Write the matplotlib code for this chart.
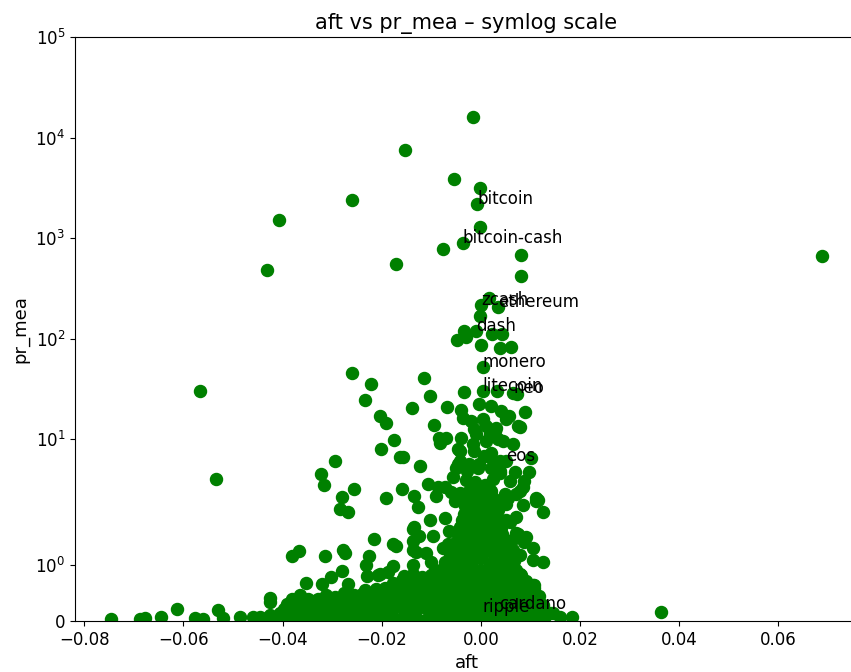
import matplotlib
matplotlib.use("Agg")
import matplotlib.pyplot as plt
from matplotlib.ticker import NullLocator

plt.rcParams["font.size"] = 12

# labelled coins
coins = ["bitcoin", "bitcoin-cash", "zcash", "ethereum", "dash", "monero",
         "litecoin", "neo", "eos", "ripple", "cardano"]
coin_aft = [-0.0007, -0.0037, 0.0001, 0.0034, -0.0009, 0.0004, 0.0004,
            0.0065, 0.0050, 0.0004, 0.0037]
coin_pr = [2200, 900, 215, 205, 118, 52, 30, 29, 6.1, 0.17, 0.22]

# pr_mea above ~17
upper = [(-0.0015, 16000), (-0.0154, 7500), (-0.0055, 3900), (-0.0002, 3140),
         (-0.0259, 2400), (-0.0408, 1500), (-0.0001, 1300), (-0.0076, 780),
         (0.0080, 680), (0.0689, 670), (-0.0171, 547), (-0.0432, 485),
         (0.0081, 416), (0.0016, 252), (-0.0001, 169), (-0.0034, 118),
         (-0.0031, 103), (-0.0048, 96), (0.0000, 86), (0.0023, 112),
         (0.0043, 112), (0.0038, 80), (0.0060, 82), (-0.0259, 45.5),
         (-0.0114, 40.6), (-0.0221, 35.4), (-0.0567, 30), (-0.0102, 26.6),
         (-0.0034, 29.5), (0.0033, 30), (0.0073, 28), (-0.0234, 24.4),
         (-0.0138, 20.2), (-0.0068, 20.8), (-0.0041, 19.3), (-0.0004, 22.3),
         (0.0021, 21.3), (0.0041, 19.0), (0.0056, 17.0), (0.0090, 18.6)]

# pr_mea 2 .. 17
mid = [(-0.0204, 17.0), (-0.0191, 14.4), (-0.0094, 13.7), (-0.0036, 16.2),
       (-0.0019, 15.1), (0.0004, 15.8), (0.0031, 12.9), (0.0051, 15.8),
       (0.0078, 13.2), (-0.0013, 12.5), (0.0011, 13.5), (0.0028, 12.1),
       (0.0075, 13.5), (-0.0175, 9.75), (-0.0085, 10.3), (-0.0070, 10.2),
       (-0.0040, 10.3), (-0.0009, 11.2), (0.0011, 9.6), (0.0044, 9.6),
       (0.0065, 8.9), (-0.0083, 9.2), (-0.0016, 8.9), (0.0018, 11.2),
       (0.0034, 10.0), (-0.0202, 7.9), (-0.0046, 7.9), (-0.0043, 7.6),
       (-0.0013, 7.6), (0.0007, 6.8), (0.0021, 7.3), (-0.0164, 6.6),
       (-0.0157, 6.7), (-0.0294, 6.1), (0.0038, 6.1), (-0.0043, 6.1),
       (0.0018, 6.6), (0.0102, 6.5), (-0.0122, 5.4), (-0.0046, 5.6),
       (-0.0003, 5.6), (-0.0023, 5.6), (-0.0050, 5.1), (-0.0006, 5.1),
       (0.0021, 5.1), (-0.0029, 4.8), (0.0038, 4.8), (0.0038, 4.6),
       (0.0068, 4.7), (0.0098, 4.7), (-0.0323, 4.5), (-0.0535, 4.0),
       (-0.0056, 4.2), (0.0058, 3.85), (0.0088, 3.85), (-0.0107, 3.6),
       (-0.0316, 3.5), (-0.0160, 3.2), (-0.0255, 3.2), (-0.0073, 3.3),
       (-0.0087, 3.3), (0.0085, 3.3), (0.0001, 3.3), (-0.0023, 3.07),
       (0.0021, 3.07), (0.0078, 3.07), (-0.0043, 2.9), (0.0048, 2.85),
       (0.0071, 2.85), (-0.0281, 2.68), (-0.0134, 2.74), (-0.0091, 2.74),
       (-0.0191, 2.58), (0.0054, 2.6), (0.0112, 2.6), (0.0115, 2.5),
       (0.0112, 2.44), (0.0051, 2.26), (0.0085, 2.2), (-0.0127, 2.1),
       (-0.0285, 2.0), (-0.0012, 3.7), (0.0008, 3.5), (-0.0030, 3.9),
       (0.0025, 4.0), (-0.0020, 3.05), (0.0000, 2.9), (0.0016, 3.15),
       (-0.0026, 2.55), (-0.0008, 2.7), (0.0010, 2.5), (0.0024, 2.62),
       (-0.0032, 2.15), (-0.0014, 2.25), (0.0004, 2.12), (0.0022, 2.3),
       (0.0032, 2.2), (-0.0052, 2.4), (0.0040, 2.45), (-0.0060, 3.0)]

# pr_mea 0.6 .. 2
low = [(-0.0269, 1.95), (0.0125, 1.95), (-0.0009, 1.92), (0.0071, 1.86),
       (-0.0072, 1.84), (-0.0103, 1.80), (0.0051, 1.80), (0.0058, 1.77),
       (-0.0036, 1.74), (-0.0134, 1.68), (-0.0136, 1.64), (0.0075, 1.56),
       (-0.0003, 1.56), (-0.0124, 1.53), (-0.0097, 1.53), (-0.0040, 1.53),
       (0.0071, 1.57), (0.0092, 1.50), (-0.0216, 1.46), (-0.0137, 1.44),
       (0.0088, 1.41), (-0.0177, 1.37), (-0.0172, 1.34), (-0.0077, 1.30),
       (0.0105, 1.30), (-0.0278, 1.28), (-0.0136, 1.27), (-0.0366, 1.25),
       (-0.0130, 1.24), (-0.0275, 1.22), (-0.0110, 1.21), (0.0078, 1.18),
       (-0.0382, 1.16), (-0.0314, 1.16), (-0.0226, 1.16), (0.0105, 1.09),
       (-0.0050, 1.06), (-0.0100, 1.06), (0.0125, 1.06), (-0.0231, 1.0),
       (-0.0177, 0.99), (-0.0137, 1.0), (0.0058, 0.97), (-0.0281, 0.90),
       (-0.0187, 0.88), (-0.0204, 0.85), (0.0081, 0.82), (-0.0208, 0.82),
       (-0.0230, 0.80), (-0.0302, 0.79), (-0.0090, 0.79), (-0.0268, 0.67),
       (-0.0352, 0.68), (-0.0320, 0.66), (0.0105, 0.64), (0.0108, 0.64),
       (-0.0110, 0.61),
       (-0.0034, 1.92), (-0.0016, 1.97), (0.0002, 1.91), (0.0020, 1.95),
       (0.0034, 1.99), (-0.0038, 1.80), (-0.0020, 1.85), (-0.0002, 1.79),
       (0.0016, 1.83), (0.0032, 1.87), (-0.0042, 1.68), (-0.0024, 1.72),
       (-0.0006, 1.66), (0.0012, 1.70), (0.0030, 1.74), (0.0040, 1.67),
       (-0.0046, 1.55), (-0.0028, 1.60), (-0.0010, 1.53), (0.0008, 1.58),
       (0.0026, 1.62), (0.0042, 1.56), (-0.0050, 1.42), (-0.0032, 1.47),
       (-0.0014, 1.40), (0.0004, 1.45), (0.0022, 1.49), (0.0040, 1.43),
       (-0.0054, 1.30), (-0.0036, 1.35), (-0.0018, 1.28), (0.0000, 1.33),
       (0.0018, 1.37), (0.0036, 1.29), (0.0048, 1.34), (-0.0062, 1.18),
       (-0.0044, 1.23), (-0.0026, 1.16), (-0.0008, 1.21), (0.0010, 1.25),
       (0.0028, 1.17), (0.0046, 1.22), (0.0058, 1.19), (-0.0072, 1.05),
       (-0.0054, 1.10), (-0.0036, 1.03), (-0.0018, 1.08), (0.0000, 1.12),
       (0.0018, 1.04), (0.0036, 1.09), (0.0054, 1.02), (0.0066, 1.07),
       (-0.0092, 0.92), (-0.0074, 0.97), (-0.0056, 0.90), (-0.0038, 0.95),
       (-0.0020, 0.99), (-0.0002, 0.91), (0.0016, 0.96), (0.0034, 0.93),
       (0.0052, 0.98), (0.0070, 0.91), (-0.0155, 0.80), (-0.0137, 0.85),
       (-0.0119, 0.78), (-0.0101, 0.83), (-0.0083, 0.87), (-0.0065, 0.79),
       (-0.0047, 0.84), (-0.0029, 0.81), (-0.0011, 0.86), (0.0007, 0.78),
       (0.0025, 0.83), (0.0043, 0.88), (0.0061, 0.80), (0.0079, 0.84),
       (-0.0178, 0.68), (-0.0160, 0.73), (-0.0142, 0.66), (-0.0124, 0.71),
       (-0.0106, 0.75), (-0.0088, 0.67), (-0.0070, 0.72), (-0.0052, 0.69),
       (-0.0034, 0.74), (-0.0016, 0.66), (0.0002, 0.71), (0.0020, 0.76),
       (0.0038, 0.68), (0.0056, 0.73), (0.0074, 0.67), (0.0092, 0.71),
       (-0.0064, 1.62), (0.0062, 1.45), (-0.0066, 1.38), (0.0064, 1.28)]

# pr_mea below 0.6
floor = [(-0.0747, 0.03), (-0.0688, 0.03), (-0.0678, 0.06), (-0.0646, 0.08),
         (-0.0614, 0.21), (-0.0577, 0.05), (-0.0560, 0.04), (-0.0530, 0.20),
         (-0.0520, 0.05), (-0.0486, 0.07), (-0.0460, 0.07), (-0.0446, 0.07),
         (-0.0426, 0.11), (-0.0406, 0.15), (-0.0425, 0.42), (-0.0425, 0.34),
         (-0.0382, 0.40), (-0.0364, 0.46), (-0.0349, 0.40), (-0.0329, 0.40),
         (-0.0278, 0.40), (-0.0255, 0.46), (-0.0234, 0.55), (-0.0198, 0.43),
         (0.0364, 0.17), (0.0145, 0.14), (0.0159, 0.08), (0.0184, 0.08),
         (0.0139, 0.14), (0.0112, 0.29), (0.0125, 0.29),
         (-0.0432, 0.05), (-0.0414, 0.08), (-0.0395, 0.04), (-0.0378, 0.09),
         (-0.0360, 0.06), (-0.0341, 0.03), (-0.0322, 0.08), (-0.0305, 0.05),
         (-0.0288, 0.09), (-0.0270, 0.04), (-0.0251, 0.07), (-0.0233, 0.03),
         (-0.0216, 0.08), (-0.0197, 0.05), (-0.0180, 0.09), (-0.0161, 0.04),
         (-0.0143, 0.07), (-0.0125, 0.02), (-0.0107, 0.06), (-0.0089, 0.09),
         (-0.0071, 0.03), (-0.0053, 0.07), (-0.0035, 0.05), (-0.0017, 0.02),
         (0.0001, 0.08), (0.0019, 0.04), (0.0037, 0.06), (0.0055, 0.03),
         (0.0073, 0.09), (0.0091, 0.05), (0.0109, 0.07), (0.0127, 0.04),
         (-0.0398, 0.22), (-0.0380, 0.18), (-0.0361, 0.25), (-0.0343, 0.17),
         (-0.0325, 0.23), (-0.0307, 0.19), (-0.0290, 0.26), (-0.0271, 0.16),
         (-0.0253, 0.21), (-0.0236, 0.24), (-0.0218, 0.17), (-0.0200, 0.22),
         (-0.0182, 0.19), (-0.0163, 0.25), (-0.0146, 0.16), (-0.0128, 0.21),
         (-0.0110, 0.24), (-0.0092, 0.18), (-0.0074, 0.22), (-0.0056, 0.15),
         (-0.0038, 0.24), (-0.0020, 0.19), (-0.0003, 0.22), (0.0015, 0.17),
         (0.0033, 0.25), (0.0051, 0.19), (0.0069, 0.23), (0.0087, 0.16),
         (0.0105, 0.21), (0.0123, 0.18),
         (-0.0392, 0.30), (-0.0373, 0.34), (-0.0355, 0.29), (-0.0336, 0.35),
         (-0.0318, 0.31), (-0.0300, 0.36), (-0.0282, 0.30), (-0.0263, 0.33),
         (-0.0245, 0.37), (-0.0227, 0.29), (-0.0209, 0.34), (-0.0190, 0.31),
         (-0.0172, 0.36), (-0.0154, 0.29), (-0.0136, 0.33), (-0.0118, 0.37),
         (-0.0100, 0.30), (-0.0082, 0.35), (-0.0064, 0.32), (-0.0046, 0.28),
         (-0.0028, 0.36), (-0.0010, 0.31), (0.0008, 0.34), (0.0026, 0.29),
         (0.0044, 0.37), (0.0062, 0.32), (0.0080, 0.35), (0.0098, 0.30),
         (-0.0312, 0.47), (-0.0294, 0.43), (-0.0276, 0.50), (-0.0258, 0.44),
         (-0.0240, 0.48), (-0.0222, 0.42), (-0.0204, 0.51), (-0.0186, 0.45),
         (-0.0168, 0.49), (-0.0150, 0.43), (-0.0132, 0.47), (-0.0114, 0.52),
         (-0.0096, 0.44), (-0.0078, 0.49), (-0.0060, 0.42), (-0.0042, 0.50),
         (-0.0024, 0.46), (-0.0006, 0.43), (0.0012, 0.51), (0.0030, 0.45),
         (0.0048, 0.48), (0.0066, 0.42), (0.0084, 0.50), (0.0102, 0.44),
         (0.0118, 0.45),
         (-0.0212, 0.58), (-0.0194, 0.59), (-0.0176, 0.55), (-0.0158, 0.60),
         (-0.0140, 0.56), (-0.0122, 0.59), (-0.0104, 0.57), (-0.0086, 0.59),
         (-0.0068, 0.54), (-0.0050, 0.59), (-0.0032, 0.58), (-0.0014, 0.56),
         (0.0004, 0.59), (0.0022, 0.55), (0.0040, 0.58), (0.0058, 0.57),
         (0.0076, 0.59), (0.0094, 0.55), (0.0108, 0.59)]

aft = coin_aft[:]
pr_mea = coin_pr[:]
for group in (upper, mid, low, floor):
    for a, p in group:
        aft.append(a)
        pr_mea.append(p)

fig = plt.figure(figsize=(8.51, 6.72), dpi=100)
ax = fig.add_axes([75 / 851, 51 / 672, 783 / 851, 584 / 672])

ax.scatter(aft, pr_mea, s=75, color="green")
for name, a, p in zip(coins, coin_aft, coin_pr):
    ax.text(a, p, name, fontsize=12)

ax.set_yscale("symlog", linthresh=2)
ax.set_ylim(0, 1e5)
ax.yaxis.set_minor_locator(NullLocator())
ax.set_xlabel("aft", fontsize=13)
ax.set_ylabel("pr_mea", fontsize=13)
ax.set_title("aft vs pr_mea \u2013 symlog scale", fontsize=15)

fig.savefig("out.png", dpi=100)
